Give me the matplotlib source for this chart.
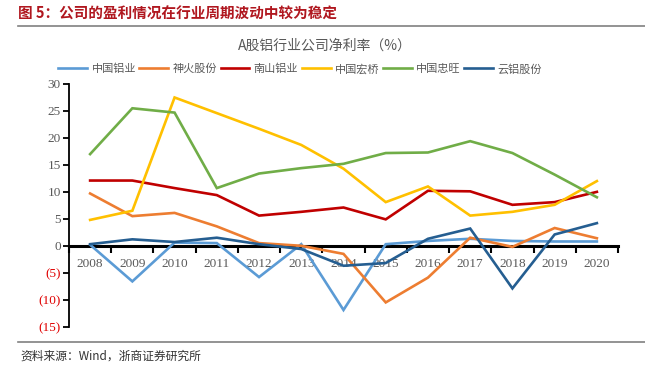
import matplotlib
matplotlib.use("Agg")
import matplotlib.pyplot as plt
from matplotlib.ticker import FixedLocator, FuncFormatter

plt.rcParams['font.family'] = ['Noto Sans CJK SC', 'DejaVu Sans']

years = ['2008', '2009', '2010', '2011', '2012', '2013', '2014',
         '2015', '2016', '2017', '2018', '2019', '2020']
chalco = [0.2, -6.6, 0.6, 0.5, -5.8, 0.3, -11.9, 0.3, 0.9, 1.3, 0.9, 0.8, 0.8]
shenhuo = [9.7, 5.5, 6.1, 3.6, 0.5, 0.0, -1.5, -10.5, -5.9, 1.5, -0.2, 3.3, 1.4]
nanshan = [12.1, 12.1, 10.7, 9.4, 5.6, 6.3, 7.1, 4.9, 10.2, 10.1, 7.6, 8.1, 10.0]
hongqiao = [4.8, 6.5, 27.5, 24.6, 21.7, 18.7, 14.3, 8.1, 11.0, 5.6, 6.3, 7.6, 12.0]
zhongwang = [17.0, 25.5, 24.7, 10.7, 13.4, 14.4, 15.2, 17.2, 17.3, 19.4, 17.2, 13.2, 9.0]
yunlv = [0.3, 1.2, 0.7, 1.5, 0.3, -0.6, -3.7, -3.2, 1.3, 3.2, -7.9, 2.1, 4.2]

names = ['中国铝业', '神火股份', '南山铝业', '中国宏桥', '中国忠旺', '云铝股份']
series = [chalco, shenhuo, nanshan, hongqiao, zhongwang, yunlv]
colors = ['#5B9BD5', '#ED7D31', '#C00000', '#FFC000', '#70AD47', '#255E91']
yticks = [-15, -10, -5, 0, 5, 10, 15, 20, 25, 30]

fig = plt.figure(figsize=(6.45, 3.75), dpi=100)
ax = fig.add_axes([69/645, 1-326.7/375, (618-69)/645, (326.7-84)/375])

x = list(range(len(years)))
handles = []
for s, c, n in zip(series, colors, names):
    h, = ax.plot(x, s, color=c, lw=1.9, label=n, solid_joinstyle='miter')
    handles.append(h)

ax.set_xlim(-0.5, len(years) - 0.5)
ax.set_ylim(-15, 30)
ax.spines['top'].set_visible(False)
ax.spines['right'].set_visible(False)
ax.spines['bottom'].set_position(('data', 0))
ax.spines['bottom'].set_linewidth(2.2)
ax.spines['bottom'].set_zorder(1)
ax.spines['left'].set_linewidth(1.3)

ax.xaxis.set_major_locator(FixedLocator(x))
ax.set_xticklabels(years, family='Liberation Serif', fontsize=9.5, color='#595959')
ax.xaxis.set_minor_locator(FixedLocator([i - 0.5 for i in range(len(years) + 1)]))
ax.tick_params(axis='x', which='major', length=0, pad=9)
ax.tick_params(axis='x', which='minor', length=5, width=1.5, direction='out', color='black')

ax.set_yticks(yticks)
def fmt(v, p):
    v = int(round(v))
    return f'({abs(v)})' if v < 0 else str(v)
ax.yaxis.set_major_formatter(FuncFormatter(fmt))
ax.tick_params(axis='y', length=4, width=1.3, direction='out', pad=2)
for lab, v in zip(ax.get_yticklabels(), yticks):
    lab.set_family('Liberation Serif')
    lab.set_fontsize(9.5)
    lab.set_color('#E00000' if v < 0 else '#595959')

fig.legend(handles=handles, labels=names, loc='center', bbox_to_anchor=(300/645, 1-69/375),
           ncol=6, frameon=False, fontsize=8, handlelength=2.6, columnspacing=0.3,
           handletextpad=0.4, labelcolor='#595959')

fig.text(18/645, 1-14/375, '图 5：公司的盈利情况在行业周期波动中较为稳定',
         fontsize=10.5, fontweight='bold', color='#B0171F', va='center', ha='left')
fig.add_artist(plt.Line2D([18/645, 1.0], [1-26/375, 1-26/375], color='#808080', lw=1.2))
fig.text(325/645, 1-46/375, 'A股铝行业公司净利率（%）', fontsize=10,
         color='#595959', va='center', ha='center')
fig.add_artist(plt.Line2D([18/645, 1.0], [1-342/375, 1-342/375], color='#808080', lw=1.2))
fig.text(20/645, 1-356/375, '资料来源：Wind，浙商证券研究所', fontsize=8.5,
         color='#333333', va='center', ha='left')

fig.savefig('out.png', dpi=100)
